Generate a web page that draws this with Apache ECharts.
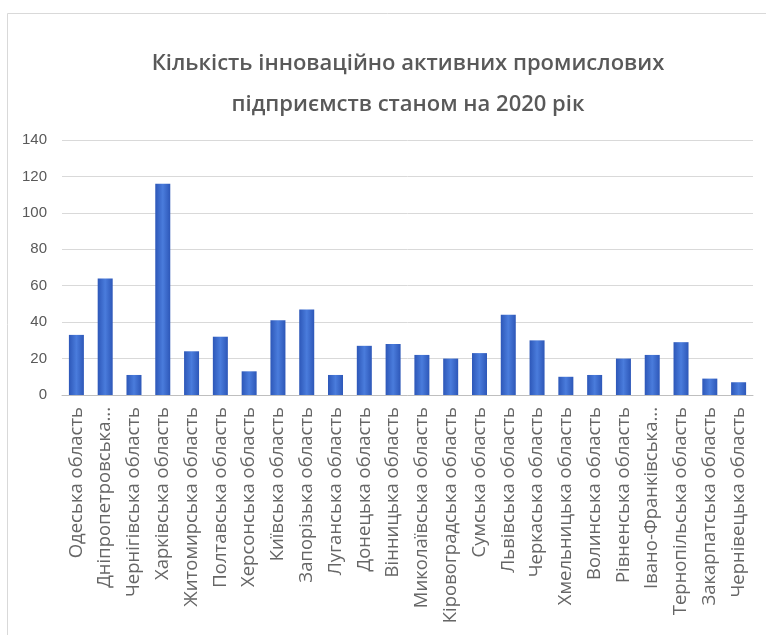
<!DOCTYPE html>
<html>
<head>
<meta charset="utf-8">
<script src="https://cdn.jsdelivr.net/npm/echarts@6/dist/echarts.min.js"></script>
<style>
html,body{margin:0;padding:0;background:#fff;}
#chart{width:766px;height:635px;}
</style>
</head>
<body>
<div id="chart"></div>
<script>
const categories = [
  "Одеська область","Дніпропетровська область","Чернігівська область","Харківська область",
  "Житомирська область","Полтавська область","Херсонська область","Київська область",
  "Запорізька область","Луганська область","Донецька область","Вінницька область",
  "Миколаївська область","Кіровоградська область","Сумська область","Львівська область",
  "Черкаська область","Хмельницька область","Волинська область","Рівненська область",
  "Івано-Франківська область","Тернопільська область","Закарпатська область","Чернівецька область"
];
const values = [33,64,11,116,24,32,13,41,47,11,27,28,22,20,23,44,30,10,11,20,22,29,9,7];
const yTicks = {min:0, max:140, interval:20};
const titleLines = ["Кількість інноваційно активних промислових","підприємств станом на 2020 рік"];

const chart = echarts.init(document.getElementById('chart'));
chart.setOption({
  animation:false,
  backgroundColor:'#ffffff',
  graphic:[{
    type:'rect', left:5, top:11, shape:{width:780, height:622},
    style:{fill:'none', stroke:'#d9d9d9', lineWidth:1}, silent:true, z:-1
  }],
  title:{
    text:titleLines.join('\n'),
    left:403, textAlign:'center', top:38,
    textStyle:{fontFamily:'Open Sans', fontSize:22, fontWeight:600, color:'#595959', lineHeight:41}
  },
  grid:{left:62, right:13, top:140, bottom:240, containLabel:false},
  xAxis:{
    type:'category', data:categories,
    axisLine:{lineStyle:{color:'#bfbfbf'}},
    axisTick:{show:false},
    axisLabel:{
      rotate:90, interval:0, margin:12, color:'#666666',
      fontFamily:'Open Sans', fontSize:18.5,
      formatter:function(v){ return v.length > 22 ? v.split(' ')[0] + '...' : v; }
    }
  },
  yAxis:{
    type:'value', min:yTicks.min, max:yTicks.max, interval:yTicks.interval,
    axisLine:{show:false}, axisTick:{show:false},
    axisLabel:{color:'#595959', fontFamily:'Liberation Sans', fontSize:15, margin:15},
    splitLine:{lineStyle:{color:'#d9d9d9'}}
  },
  series:[{
    type:'bar', data:values, barWidth:15,
    itemStyle:{color:new echarts.graphic.LinearGradient(0,0,1,0,[
      {offset:0,color:'#2d57b8'},{offset:0.5,color:'#4a7cdc'},{offset:1,color:'#2d57b8'}
    ])}
  }]
});
</script>
</body>
</html>
